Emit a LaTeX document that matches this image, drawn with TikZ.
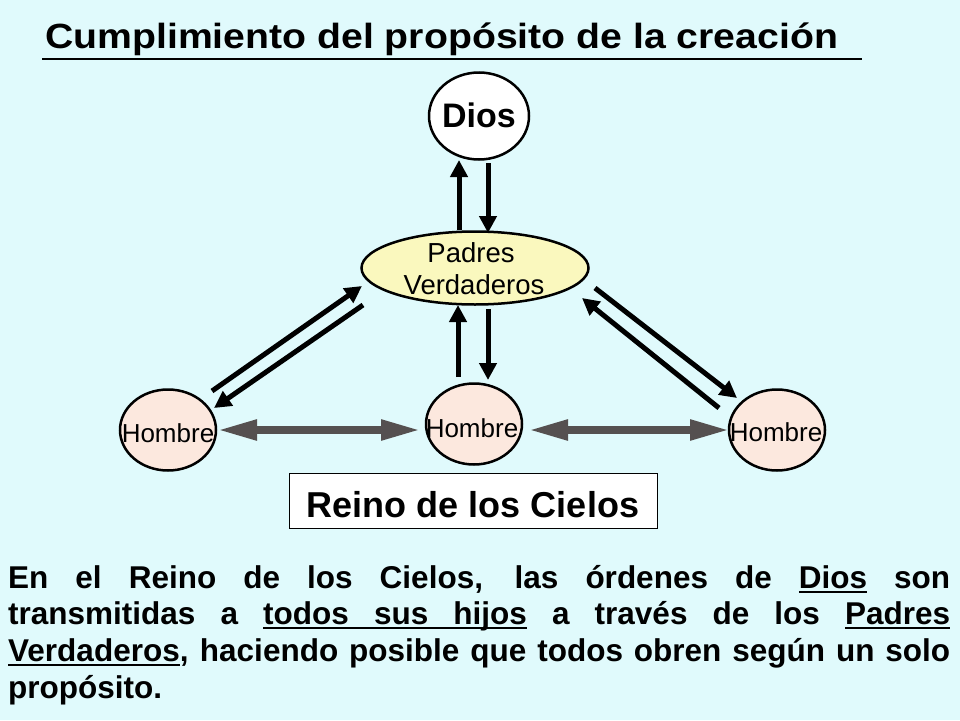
\documentclass[tikz,border=0pt]{standalone}
\usepackage{fontspec}
\setmainfont{Liberation Sans}
\usetikzlibrary{arrows.meta,shapes.geometric,calc}
\definecolor{bgc}{RGB}{224,250,252}
\definecolor{padresc}{RGB}{250,248,190}
\definecolor{hombrec}{RGB}{252,232,222}
\definecolor{grayarr}{RGB}{85,80,80}
\newcommand\ulw[1]{\setbox0\hbox{#1}\rlap{\rule[-5pt]{\wd0}{2.2pt}}\box0\relax}
\newcommand\usp{\leaders\hrule height -2.8pt depth 5pt\hskip .28em plus 1fil\relax}
\newcommand\jline[1]{{\spaceskip=.28em plus 1fil\relax\hbox to 942pt{#1}}}
\begin{document}
\begin{tikzpicture}[x=1pt,y=-1pt,
  diosnode/.style={ellipse,draw=black,line width=2.5pt,fill=white,minimum width=100pt,minimum height=87pt,inner sep=0},
  padresnode/.style={ellipse,draw=black,line width=2.5pt,fill=padresc,minimum width=227pt,minimum height=73pt,inner sep=0},
  hombrenode/.style={ellipse,draw=black,line width=2.5pt,fill=hombrec,minimum width=96pt,minimum height=81pt,inner sep=0},
  hlabel/.style={anchor=base,inner sep=0,font=\fontsize{26}{30}\selectfont},
  plabel/.style={anchor=base,inner sep=0,font=\fontsize{27.5}{32}\selectfont},
  paraline/.style={anchor=base west,inner sep=0,font=\bfseries\fontsize{31.5}{36}\selectfont},
  blackarrow/.style={draw=black,line width=5pt,-{Triangle[length=17pt,width=17pt]}},
  grayarrow/.style={draw=grayarr,line width=8pt,{Triangle[length=40pt,width=19pt]}-{Triangle[length=40pt,width=19pt]}}
]
\fill[bgc] (0,0) rectangle (960,720);
\useasboundingbox (0,0) rectangle (960,720);

% title
\node[anchor=base west,inner sep=0,font=\bfseries\fontsize{35}{40}\selectfont] (title) at (45,48)
  {\scalebox{1.12}[1]{Cumplimiento del propósito de la creación}};
\draw[line width=2.5pt] ($(title.base west)+(-3,11)$) -- ($(title.base east)+(24,11)$);

% shapes
\node[diosnode] (dios) at (479,116) {};
\node[anchor=base,inner sep=0,font=\bfseries\fontsize{34}{38}\selectfont] (diostxt) at (479,127) {Dios};

\node[padresnode] (padres) at (475,268) {};
\node[plabel] (ptxt1) at (471,262) {Padres};
\node[plabel] (ptxt2) at (474,294) {Verdaderos};

\node[hombrenode] (h1) at (168,430) {};
\node[hombrenode] (h2) at (474,424) {};
\node[hombrenode] (h3) at (777,430) {};
\node[hlabel] (h1t) at (168,442) {Hombre};
\node[hlabel] (h2t) at (472,437) {Hombre};
\node[hlabel] (h3t) at (776,441) {Hombre};

\node[draw=black,line width=1pt,fill=white,minimum width=368pt,minimum height=55pt,inner sep=0] (reino) at (473,501) {};
\node[anchor=base,inner sep=0,font=\bfseries\fontsize{36}{40}\selectfont] (reinotxt) at (473,517) {Reino de los Cielos};

% arrow end points
\coordinate (dpUpS) at (459,230); \coordinate (dpUpE) at (459,160);
\coordinate (dpDnS) at (488,163); \coordinate (dpDnE) at (488,233);
\coordinate (phUpS) at (458,377); \coordinate (phUpE) at (458,305);
\coordinate (phDnS) at (488,309); \coordinate (phDnE) at (488,380);
\coordinate (lUpS) at (212,391); \coordinate (lUpE) at (362,286);
\coordinate (lDnS) at (363,305); \coordinate (lDnE) at (214,408);
\coordinate (rDnS) at (595,288); \coordinate (rDnE) at (737,398);
\coordinate (rUpS) at (719,408); \coordinate (rUpE) at (582,298);
\coordinate (g1a) at (217,430); \coordinate (g1b) at (421,430);
\coordinate (g2a) at (528,430); \coordinate (g2b) at (730,430);

\draw[blackarrow] (dpUpS) -- (dpUpE);
\draw[blackarrow] (dpDnS) -- (dpDnE);
\draw[blackarrow] (phUpS) -- (phUpE);
\draw[blackarrow] (phDnS) -- (phDnE);
\draw[blackarrow] (lUpS) -- (lUpE);
\draw[blackarrow] (lDnS) -- (lDnE);
\draw[blackarrow] (rDnS) -- (rDnE);
\draw[blackarrow] (rUpS) -- (rUpE);
\draw[grayarrow] (g1a) -- (g1b);
\draw[grayarrow] (g2a) -- (g2b);

% paragraph
\node[paraline] (p1) at (8,588) {\jline{En el Reino de los Cielos, las órdenes de \ulw{Dios} son}};
\node[paraline] (p2) at (8,624) {\jline{transmitidas a \ulw{todos}\usp\ulw{sus}\usp\ulw{hijos} a través de los \ulw{Padres}}};
\node[paraline] (p3) at (8,661) {\jline{\ulw{Verdaderos}, haciendo posible que todos obren según un solo}};
\node[paraline] (p4) at (8,698) {propósito.};
\end{tikzpicture}
\end{document}
